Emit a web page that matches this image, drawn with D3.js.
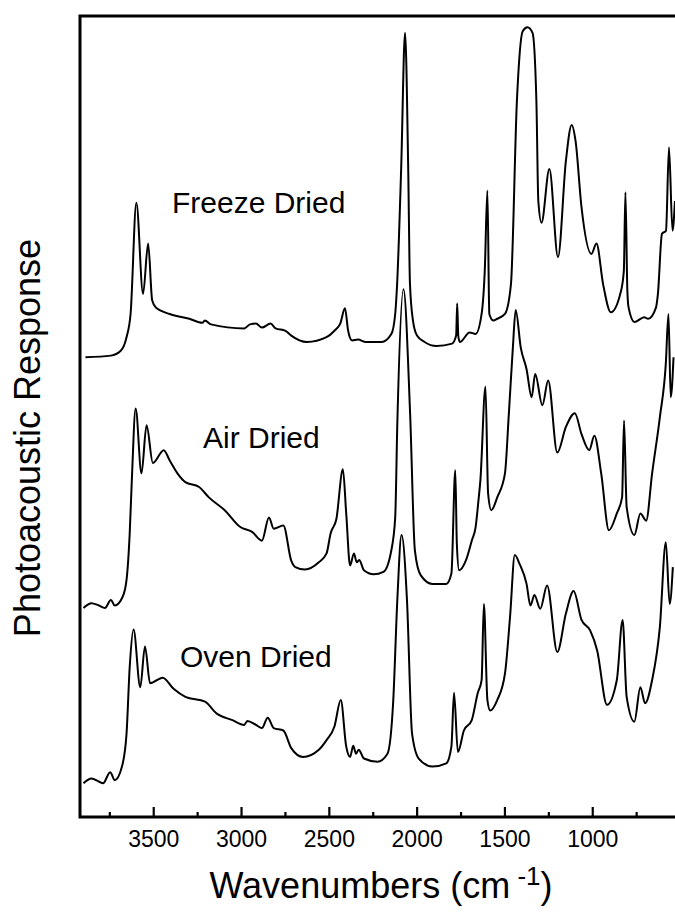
<!DOCTYPE html>
<html>
<head>
<meta charset="utf-8">
<script src="https://cdn.jsdelivr.net/npm/d3@7/dist/d3.min.js"></script>
<style>
  html, body { margin: 0; padding: 0; background: #fff; }
  svg { display: block; }
  text { font-family: "Liberation Sans", Arial, Helvetica, sans-serif; fill: #000; }
</style>
</head>
<body>
<svg id="chart" width="675" height="915"></svg>
<script>
// ---- Data ----
const freezeWn = [3886,3741,3685,3652,3629,3596,3558,3529,3506,3485,3406,3294,3220,3206,3171,2982,2949,2915,2881,2832,2803,2747,2714,2625,2513,2468,2435,2408,2390,2368,2334,2289,2200,2144,2122,2111,2088,2066,2048,2038,2021,1998,1955,1887,1798,1775,1769,1763,1754,1698,1664,1630,1612,1597,1586,1564,1541,1497,1463,1429,1396,1369,1340,1318,1307,1289,1244,1195,1150,1117,1095,1061,1005,976,938,894,838,820,811,800,793,760,704,682,637,626,603,580,563,543,529];
const freezeVal = [57.4,57.6,58.2,59.9,62.8,76.7,65.3,71.6,64.5,63.6,62.8,62.2,61.7,62.0,61.5,61.0,61.5,61.6,61.1,61.6,61.0,60.7,60.1,59.3,59.9,60.7,61.6,63.5,60.7,59.5,59.6,59.3,59.3,60.3,62.8,66.6,81.0,97.9,81.0,66.6,62.0,60.1,59.3,58.8,59.1,60.1,64.1,60.1,59.3,60.5,60.3,62.8,68.2,78.2,62.8,62.0,62.2,62.8,66.5,89.4,98.1,98.6,97.9,89.4,76.9,74.2,80.9,69.9,81.9,86.4,84.4,76.1,70.3,71.6,66.5,63.0,65.5,68.2,78.0,65.7,63.6,61.8,62.4,62.2,63.6,65.3,72.8,73.2,83.6,73.2,76.9];

const airWn = [3897,3852,3809,3775,3741,3719,3674,3652,3634,3622,3600,3567,3538,3502,3440,3406,3362,3317,3239,3183,3093,3004,2937,2881,2841,2814,2759,2714,2691,2636,2557,2513,2490,2457,2420,2401,2379,2357,2341,2327,2300,2245,2189,2144,2122,2110,2075,2037,2010,1977,1910,1831,1802,1780,1771,1758,1720,1686,1664,1648,1637,1608,1593,1575,1541,1497,1475,1452,1436,1407,1374,1345,1325,1284,1251,1199,1150,1099,1061,1017,988,949,905,860,830,819,804,760,726,693,659,615,581,566,553,537];
const airVal = [26.1,26.7,26.4,26.1,27.1,26.4,27.5,29.6,35.4,42.0,51.0,42.9,48.9,44.2,45.8,44.5,42.9,41.8,41.2,39.9,38.3,36.2,35.6,34.5,37.4,36.0,36.4,32.0,31.2,30.9,31.8,32.9,35.4,37.2,43.4,37.9,31.4,32.9,31.8,32.1,30.8,30.3,30.6,33.3,37.4,49.1,65.9,50.3,33.3,30.2,29.1,29.1,30.4,43.3,34.1,30.8,32.0,34.5,36.2,39.5,42.0,53.7,40.4,38.3,39.9,42.9,50.3,58.6,63.3,58.6,55.9,52.4,55.3,51.4,54.5,45.5,48.7,50.4,47.8,45.8,47.6,42.9,35.8,37.9,39.9,49.5,38.7,35.2,37.9,37.0,42.9,49.9,56.6,62.8,52.4,57.4];

const ovenWn = [3897,3852,3808,3786,3745,3719,3678,3652,3634,3612,3574,3547,3518,3446,3384,3317,3205,3138,3049,2982,2964,2915,2881,2848,2814,2759,2714,2647,2557,2513,2468,2432,2401,2379,2361,2345,2330,2300,2223,2166,2133,2110,2086,2055,2026,1988,1910,1831,1802,1787,1765,1731,1686,1653,1630,1617,1597,1581,1541,1497,1468,1441,1414,1374,1352,1329,1296,1257,1199,1150,1106,1061,1012,972,916,860,827,804,760,726,699,659,615,581,559,541];
const ovenVal = [4.2,4.8,4.4,4.2,5.6,4.6,6.3,10.4,18.7,23.4,16.2,21.3,16.7,17.4,16.0,15.0,14.4,12.9,12.1,11.5,12.0,11.5,11.1,12.4,11.1,10.8,8.6,7.5,8.4,9.6,11.3,14.6,8.8,7.5,8.9,7.9,8.4,7.3,6.9,7.9,14.6,27.1,35.2,27.1,10.4,7.3,6.3,6.7,8.8,15.5,8.1,10.8,12.1,15.4,17.1,26.6,14.6,13.3,14.6,17.9,25.0,32.7,31.6,29.1,26.4,27.7,26.0,28.9,20.6,25.4,28.2,24.6,23.3,20.8,14.0,17.1,24.6,15.0,11.9,16.2,14.2,17.1,23.7,34.3,26.6,31.2];

const seriesNames = ["Freeze Dried", "Air Dried", "Oven Dried"];
const majorTicks = [3500, 3000, 2500, 2000, 1500, 1000];
const minorTicks = [3750, 3250, 2750, 2250, 1750, 1250, 750];
const xDomain = [3917, 523];
const yDomain = [0, 100];

// ---- Layout ----
const mLeft = 80, mRight = 676, mTop = 16, mBottom = 817;
const svg = d3.select("#chart");

const x = d3.scaleLinear().domain(xDomain).range([mLeft, mRight]);
const y = d3.scaleLinear().domain(yDomain).range([mBottom, mTop]);

// frame (left, top, bottom; right edge off-canvas)
svg.append("path")
  .attr("d", `M${mRight},${mTop}H${mLeft}V${mBottom}H${mRight}`)
  .attr("fill", "none").attr("stroke", "#000").attr("stroke-width", 3);

// axis ticks (inward)
const axis = d3.axisBottom(x).tickValues(majorTicks).tickSize(-10).tickPadding(0).tickFormat(d3.format("d"));
const gx = svg.append("g").attr("transform", `translate(0,${mBottom})`).call(axis);
gx.select(".domain").remove();
gx.selectAll(".tick line").attr("stroke", "#000").attr("stroke-width", 2.2);
gx.selectAll(".tick text").attr("y", 30).attr("dy", null)
  .style("font-size", "23px").attr("fill", "#000");

const axisMinor = d3.axisBottom(x).tickValues(minorTicks).tickSize(-5).tickFormat("");
const gm = svg.append("g").attr("transform", `translate(0,${mBottom})`).call(axisMinor);
gm.select(".domain").remove();
gm.selectAll(".tick line").attr("stroke", "#000").attr("stroke-width", 2.2);

// spectra
const line = d3.line().x(d => x(d[0])).y(d => y(d[1])).curve(d3.curveMonotoneX);
const series = [
  d3.zip(freezeWn, freezeVal),
  d3.zip(airWn, airVal),
  d3.zip(ovenWn, ovenVal)
];
svg.append("g").selectAll("path").data(series).join("path")
  .attr("d", line).attr("fill", "none").attr("stroke", "#000")
  .attr("stroke-width", 2).attr("stroke-linejoin", "round");

// series labels
const labelPos = [[172, 213], [203, 448], [180, 667]];
svg.append("g").selectAll("text").data(seriesNames).join("text")
  .attr("x", (d, i) => labelPos[i][0]).attr("y", (d, i) => labelPos[i][1])
  .style("font-size", "30px").text(d => d);

// axis titles
const xt = svg.append("text").attr("x", 381).attr("y", 898).attr("text-anchor", "middle")
  .style("font-size", "36px");
xt.append("tspan").text("Wavenumbers (cm");
xt.append("tspan").attr("dy", -13).style("font-size", "26px").text(" -1");
xt.append("tspan").attr("dy", 13).text(")");

svg.append("text").attr("transform", "translate(40,438) rotate(-90)")
  .attr("text-anchor", "middle").style("font-size", "36px").text("Photoacoustic Response");
</script>
</body>
</html>
